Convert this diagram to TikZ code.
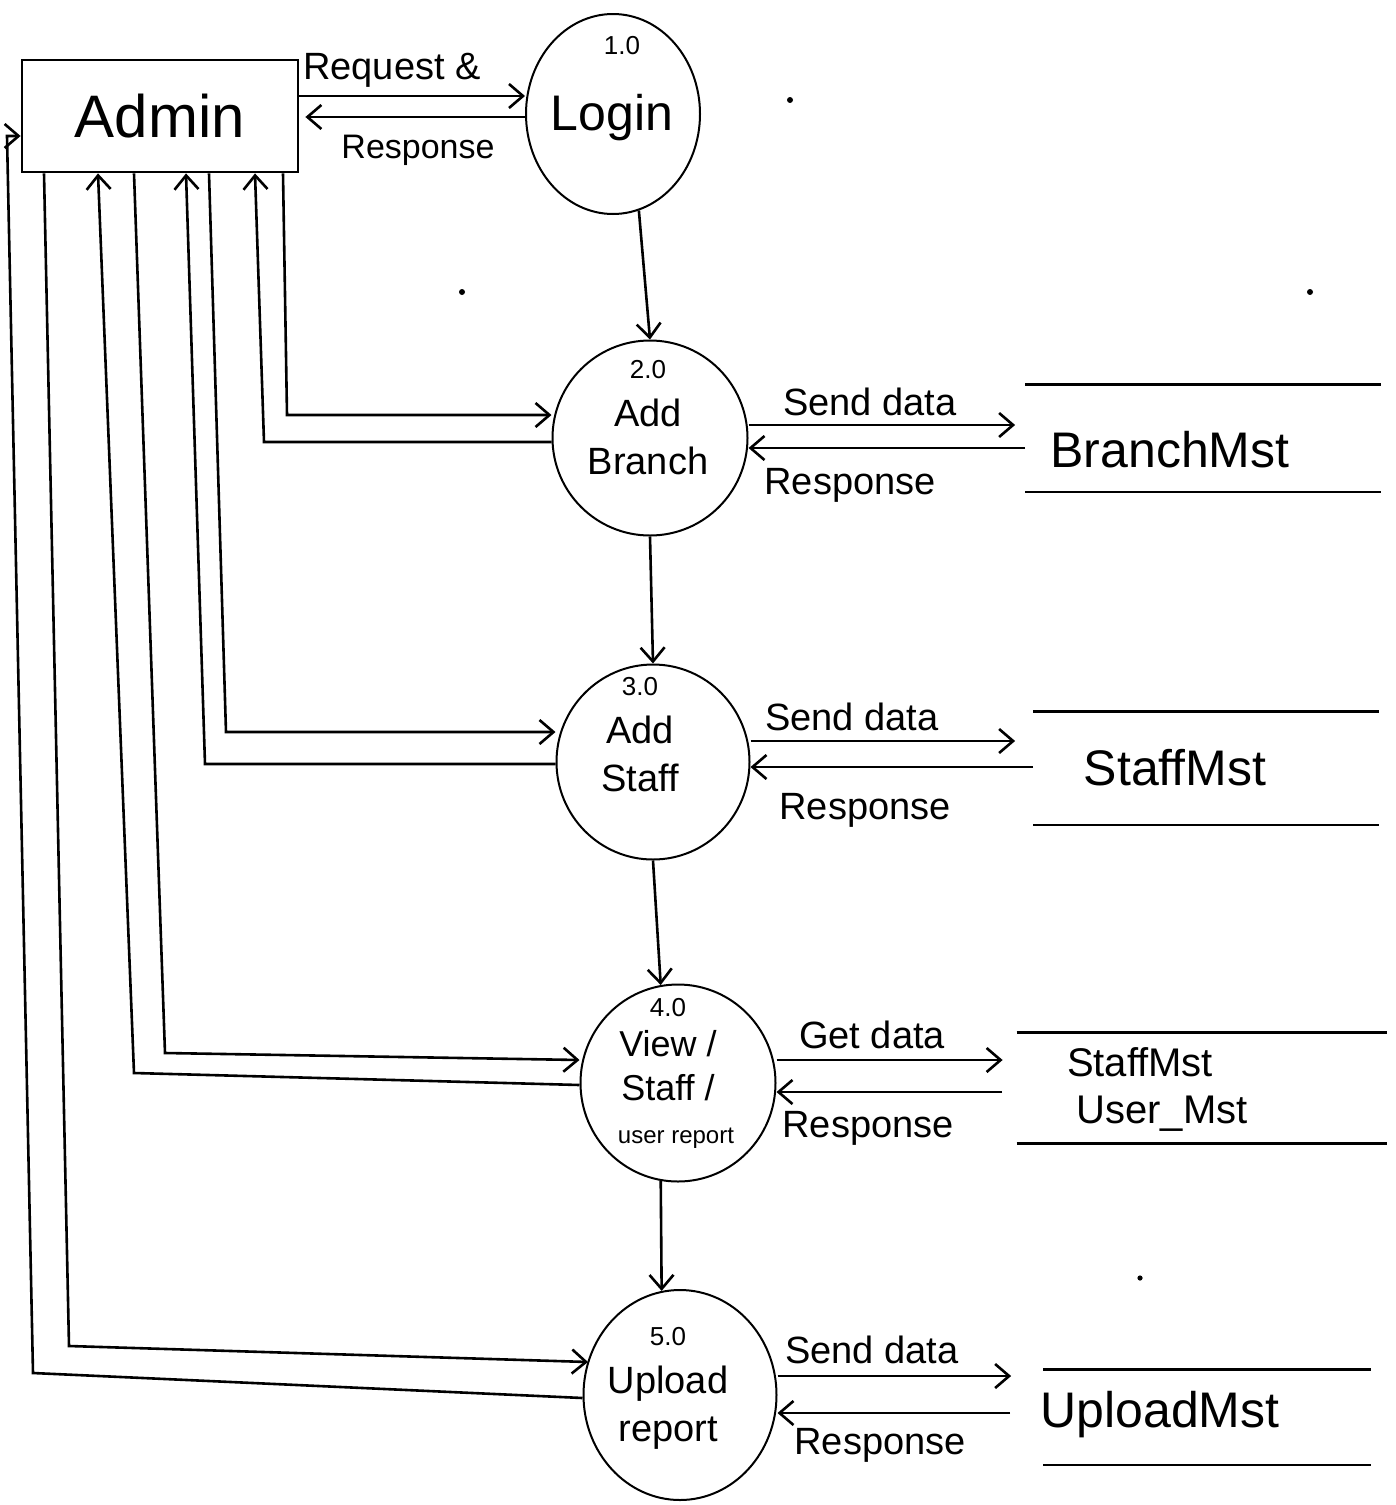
\documentclass[tikz,border=0pt]{standalone}
\usepackage{fontspec}
\setmainfont{Liberation Sans}
\usetikzlibrary{arrows.meta,shapes.geometric}
\begin{document}
\begin{tikzpicture}[x=0.5pt,y=-0.5pt,
  flow/.style={line width=1.3pt,-{Straight Barb[length=7pt,width=12pt]}},
  proc/.style={draw,ellipse,line width=1pt,inner sep=0pt},
  ptext/.style={align=center,inner sep=0pt,font=\fontsize{19}{24}\selectfont},
  numtext/.style={font=\fontsize{13}{15}\selectfont},
  lbl/.style={inner sep=0pt,font=\fontsize{19}{22}\selectfont},
  store/.style={inner sep=0pt,draw=none},
  storeline/.style={line width=1.4pt},
  storetext/.style={inner sep=0pt,font=\fontsize{25}{30}\selectfont},
]
\useasboundingbox (0,0) rectangle (1396,1505);

% external entity
\node[draw,line width=1.4pt,minimum width=138pt,minimum height=56pt,inner sep=0pt,
      font=\fontsize{30}{34}\selectfont] (admin) at (160,116) {Admin};

% processes
\node[proc,minimum width=87pt,minimum height=100pt] (login) at (613,114) {};
\node[proc,minimum width=97.5pt,minimum height=97.5pt] (branch) at (650,438) {};
\node[proc,minimum width=96.5pt,minimum height=97.5pt] (staff) at (653,762) {};
\node[proc,minimum width=97.5pt,minimum height=98.5pt] (view) at (678,1083) {};
\node[proc,minimum width=96.5pt,minimum height=105pt] (upload) at (680,1395) {};

% process texts
\node[numtext] (loginno) at (622,46) {1.0};
\node[ptext,font=\fontsize{25}{28}\selectfont] (logintxt) at (612,118) {Login};
\node[ptext] (branchtxt) at (648,418) {{\fontsize{13}{15}\selectfont 2.0}\\Add\\Branch};
\node[ptext] (stafftxt) at (640,735) {{\fontsize{13}{15}\selectfont 3.0}\\Add\\Staff};
\node[numtext] (viewno) at (668,1008) {4.0};
\node[ptext,font=\fontsize{18}{22}\selectfont] (viewtxt) at (668,1066) {View /\\Staff /};
\node[ptext,font=\fontsize{12}{14}\selectfont] (viewtxt2) at (676,1138) {user report};
\node[ptext] (uploadtxt) at (668,1388) {{\fontsize{13}{15}\selectfont 5.0}\\Upload\\report};

% data stores
\node[store,minimum width=177.5pt,minimum height=53.5pt] (bmst) at (1203,438) {};
\node[store,minimum width=172.5pt,minimum height=56.5pt] (smst) at (1206,768) {};
\node[store,minimum width=185pt,minimum height=55pt] (umst) at (1202,1088) {};
\node[store,minimum width=163.5pt,minimum height=47.5pt] (upmst) at (1207,1417) {};
\foreach \s in {bmst,smst,umst,upmst}
  \draw[storeline] (\s.north west) -- (\s.north east) (\s.south west) -- (\s.south east);
\node[storetext] (bmsttxt) at (1170,450) {BranchMst};
\node[storetext] (smsttxt) at (1175,768) {StaffMst};
\node[storetext,font=\fontsize{20}{24}\selectfont] (umsttxt1) at (1140,1062) {StaffMst};
\node[storetext,font=\fontsize{20}{24}\selectfont] (umsttxt2) at (1162,1114) {User\_Mst};
\node[storetext] (upmsttxt) at (1160,1415) {UploadMst};

% admin <-> login
\coordinate (rq) at (0,96);
\coordinate (rs) at (0,117);
\draw[flow] (rq -| admin.east) -- (rq -| login.west);
\draw[flow,shorten >=3pt] (rs -| login.west) -- (rs -| admin.east);
\node[lbl] (rqlbl) at (392,70) {Request \&};
\node[lbl,font=\fontsize{17}{20}\selectfont] (rslbl) at (418,150) {Response};

% control flow between processes
\draw[flow] (login.-75) -- (branch.north);
\draw[flow] (branch.south) -- (staff.north);
\draw[flow] (staff.south) -- (view.100);
\draw[flow] (view.-100) -- (upload.100);

% admin <-> add branch
\coordinate (a1t) at (283,0);  \coordinate (a1c) at (287,415);
\coordinate (a2t) at (255,0);  \coordinate (a2c) at (264,442);
\draw[flow] (a1t |- admin.south) -- (a1c) -- (a1c -| branch.west);
\draw[flow] (a2c -| branch.west) -- (a2c) -- (a2t |- admin.south);

% admin <-> add staff
\coordinate (a3t) at (209,0);  \coordinate (a3c) at (226,732);
\coordinate (a4t) at (186,0);  \coordinate (a4c) at (205,764);
\draw[flow] (a3t |- admin.south) -- (a3c) -- (a3c -| staff.west);
\draw[flow] (a4c -| staff.west) -- (a4c) -- (a4t |- admin.south);

% admin <-> view
\coordinate (a5t) at (134,0);  \coordinate (a5c) at (165,1053); \coordinate (a5e) at (0,1060);
\coordinate (a6t) at (98,0);   \coordinate (a6c) at (134,1073); \coordinate (a6e) at (0,1085);
\draw[flow] (a5t |- admin.south) -- (a5c) -- (a5e -| view.west);
\draw[flow] (a6e -| view.west) -- (a6c) -- (a6t |- admin.south);

% admin <-> upload report
\coordinate (a7t) at (44,0);   \coordinate (a7c) at (69,1346);  \coordinate (a7e) at (588,1362);
\coordinate (a8t) at (7,136);  \coordinate (a8c) at (33,1373);  \coordinate (a8e) at (0,1398);
\draw[flow] (a7t |- admin.south) -- (a7c) -- (a7e);
\draw[flow] (a8e -| upload.west) -- (a8c) -- (a8t) -- (a8t -| admin.west);

% process <-> data store flows
\coordinate (b1) at (0,425);  \coordinate (b2) at (0,448);
\draw[flow,shorten >=5pt] (b1 -| branch.east) -- (b1 -| bmst.west);
\draw[flow] (b2 -| bmst.west) -- (b2 -| branch.east);
\node[lbl] (b1lbl) at (870,402) {Send data};
\node[lbl] (b2lbl) at (850,485) {Response};

\coordinate (s1) at (0,741);  \coordinate (s2) at (0,767);
\draw[flow,shorten >=9pt] (s1 -| staff.east) -- (s1 -| smst.west);
\draw[flow] (s2 -| smst.west) -- (s2 -| staff.east);
\node[lbl] (s1lbl) at (852,717) {Send data};
\node[lbl] (s2lbl) at (865,810) {Response};

\coordinate (v1) at (0,1060); \coordinate (v2) at (0,1092);
\draw[flow,shorten >=7pt] (v1 -| view.east) -- (v1 -| umst.west);
\draw[flow] (1002,1092) -- (v2 -| view.east);
\node[lbl] (v1lbl) at (872,1035) {Get data};
\node[lbl] (v2lbl) at (868,1128) {Response};

\coordinate (u1) at (0,1376); \coordinate (u2) at (0,1413);
\draw[flow,shorten >=16pt] (u1 -| upload.east) -- (u1 -| upmst.west);
\draw[flow] (1010,1413) -- (u2 -| upload.east);
\node[lbl] (u1lbl) at (872,1350) {Send data};
\node[lbl] (u2lbl) at (880,1445) {Response};

% stray dots on the sheet
\fill (790,100) circle[radius=1.5pt];
\fill (462,292) circle[radius=1.5pt];
\fill (1310,292) circle[radius=1.5pt];
\fill (1140,1278) circle[radius=1.3pt];
\end{tikzpicture}
\end{document}
